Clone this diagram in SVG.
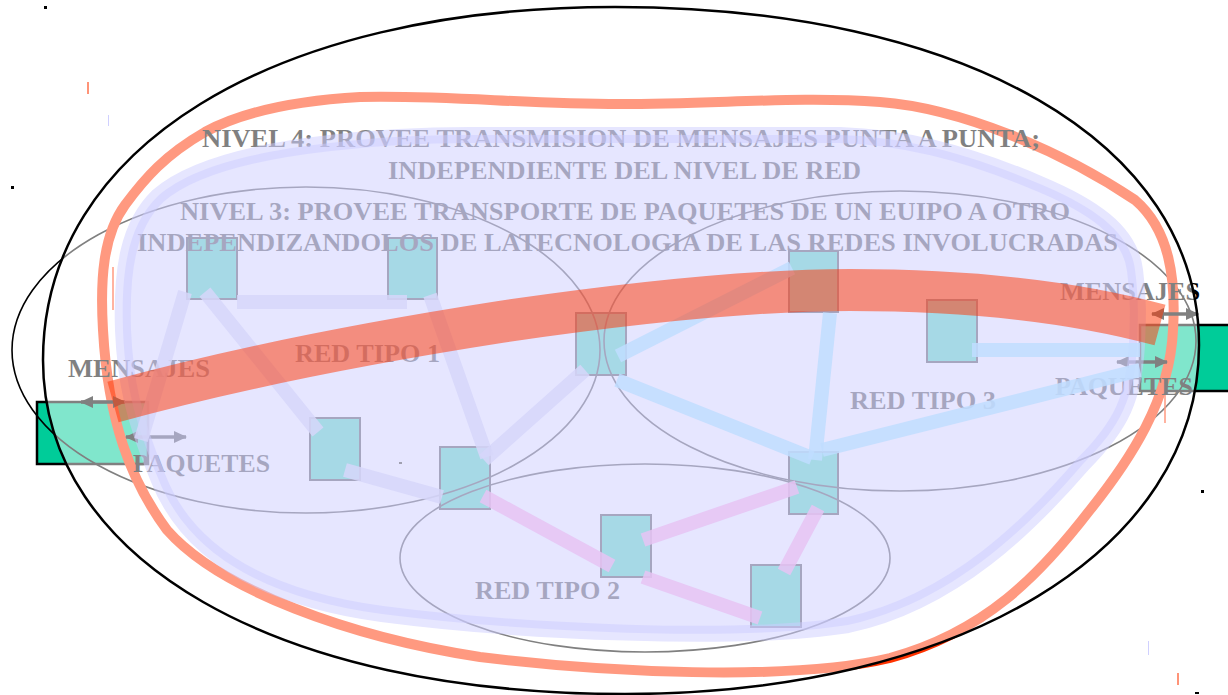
<svg xmlns="http://www.w3.org/2000/svg" width="1228" height="695" viewBox="0 0 1228 695">
<defs>
<style>
.t{font-family:"Liberation Serif","Times New Roman",serif;font-weight:bold;font-size:26px;fill:#000}
.sq{fill:#00cc99;stroke:#000;stroke-width:2}
.pc{fill:#00cc99;stroke:#000;stroke-width:2.5}
.net{fill:none;stroke:#000;stroke-width:1.6}
.ln{fill:none;stroke-width:14;stroke-opacity:0.85;stroke-linecap:butt}
.l1{stroke:#adadf4}
.l3{stroke:#80bbff}
.l2{stroke:#ce87e8}
.arr{fill:none;stroke:#000;stroke-width:3.5;marker-start:url(#ah);marker-end:url(#ah)}
</style>
<marker id="ah" markerUnits="userSpaceOnUse" markerWidth="13" markerHeight="12" viewBox="0 0 13 12" refX="12" refY="6" orient="auto-start-reverse">
<path d="M0,0 L13,6 L0,12 z" fill="#000"/>
</marker>
</defs>
<rect width="1228" height="695" fill="#fff"/>

<g id="pc-left"><rect class="pc" x="37" y="402" width="111" height="62"/></g>
<g id="pc-right"><rect class="pc" x="1140" y="325" width="100" height="66"/></g>

<g id="routers">
<g id="r1"><rect class="sq" x="187" y="238" width="50" height="61"/></g>
<g id="r2"><rect class="sq" x="388" y="238" width="49" height="61"/></g>
<g id="r3"><rect class="sq" x="576" y="313" width="50" height="62"/></g>
<g id="r4"><rect class="sq" x="789" y="251" width="49" height="61"/></g>
<g id="r5"><rect class="sq" x="927" y="300" width="50" height="62"/></g>
<g id="r7"><rect class="sq" x="310" y="418" width="50" height="62"/></g>
<g id="r8"><rect class="sq" x="440" y="447" width="50" height="62"/></g>
<g id="r9"><rect class="sq" x="789" y="452" width="49" height="62"/></g>
<g id="r10"><rect class="sq" x="601" y="515" width="50" height="62"/></g>
<g id="r11"><rect class="sq" x="751" y="565" width="50" height="62"/></g>
</g>

<g id="networks">
<ellipse id="red1" class="net" cx="306" cy="350" rx="294" ry="163"/>
<ellipse id="red3" class="net" cx="900" cy="341" rx="296" ry="150"/>
<ellipse id="red2" class="net" cx="645" cy="558" rx="245" ry="94"/>
</g>

<g id="nivel4-ring">
<path d="M103,330 C100,280 103,235 125,205 C145,178 165,155 205,132 C240,113 290,101 360,97 C450,95 520,104 620,104 C720,104 800,96 880,102 C960,108 1060,150 1135,200 C1170,230 1176,280 1173,330 C1170,400 1130,460 1090,510 C1040,575 985,632 890,658 C790,682 600,672 480,657 C350,637 220,590 167,530 C130,480 108,420 103,330 Z" fill="none" stroke="#ff3300" stroke-width="10"/>
<line x1="113" y1="267" x2="113" y2="310" stroke="#ff3300" stroke-width="1.5"/>
<line x1="1165" y1="383" x2="1165" y2="423" stroke="#ff3300" stroke-width="1.5"/>
</g>

<g id="labels">
<text class="t" x="202" y="147" textLength="838" lengthAdjust="spacingAndGlyphs">NIVEL 4: PROVEE TRANSMISION DE MENSAJES PUNTA A PUNTA;</text>
<text class="t" x="388" y="179" textLength="473" lengthAdjust="spacingAndGlyphs">INDEPENDIENTE DEL NIVEL DE RED</text>
<text class="t" x="180" y="220" textLength="890" lengthAdjust="spacingAndGlyphs">NIVEL 3: PROVEE TRANSPORTE DE PAQUETES DE UN EUIPO A OTRO</text>
<text class="t" x="137" y="251" textLength="981" lengthAdjust="spacingAndGlyphs">INDEPENDIZANDOLOS DE LATECNOLOGIA DE LAS REDES INVOLUCRADAS</text>
<text class="t" x="295" y="362" textLength="145" lengthAdjust="spacingAndGlyphs">RED TIPO 1</text>
<text class="t" x="850" y="409" textLength="146" lengthAdjust="spacingAndGlyphs">RED TIPO 3</text>
<text class="t" x="475" y="599" textLength="145" lengthAdjust="spacingAndGlyphs">RED TIPO 2</text>
<text class="t" x="68" y="377" textLength="142" lengthAdjust="spacingAndGlyphs">MENSAJES</text>
<text class="t" x="133" y="472" textLength="137" lengthAdjust="spacingAndGlyphs">PAQUETES</text>
<text class="t" x="1060" y="300" textLength="140" lengthAdjust="spacingAndGlyphs">MENSAJES</text>
<text class="t" x="1055" y="395" textLength="138" lengthAdjust="spacingAndGlyphs">PAQUETES</text>
</g>

<g id="arrows">
<line class="arr" x1="81" y1="402" x2="125" y2="402"/>
<line class="arr" x1="126" y1="437" x2="186" y2="437"/>
<line class="arr" x1="1152" y1="314" x2="1198" y2="314"/>
<line class="arr" x1="1117" y1="362" x2="1167" y2="362"/>
</g>

<g id="nivel3-area">
<path d="M123,330 C121,270 128,225 158,196 C190,168 250,152 330,143 C380,137 420,135 470,135 L840,135 C900,137 960,150 1040,184 C1090,205 1130,230 1135,270 C1139,300 1138,320 1137,345 C1134,398 1122,425 1083,464 C1033,522 955,602 848,625 C740,642 520,632 382,614 C265,598 188,555 158,478 C133,418 125,380 123,330 Z" fill="#9999ff" fill-opacity="0.5" stroke="#9999ff" stroke-opacity="0.5" stroke-width="16"/>
</g>

<g id="connectors">
<line class="ln l1" x1="185" y1="292" x2="141" y2="440"/>
<line class="ln l1" x1="205" y1="292" x2="318" y2="432"/>
<line class="ln l1" x1="237" y1="302" x2="407" y2="302"/>
<line class="ln l1" x1="430" y1="295" x2="487" y2="457"/>
<line class="ln l1" x1="484" y1="460" x2="585" y2="370"/>
<line class="ln l1" x1="345" y1="470" x2="442" y2="497"/>
<line class="ln l3" x1="618" y1="356" x2="792" y2="268"/>
<line class="ln l3" x1="617" y1="380" x2="812" y2="458"/>
<line class="ln l3" x1="830" y1="313" x2="815" y2="460"/>
<line class="ln l3" x1="822" y1="450" x2="1140" y2="370"/>
<line class="ln l3" x1="972" y1="350" x2="1140" y2="350"/>
<line class="ln l2" x1="483" y1="496" x2="612" y2="566"/>
<line class="ln l2" x1="643" y1="540" x2="797" y2="487"/>
<line class="ln l2" x1="643" y1="577" x2="760" y2="618"/>
<line class="ln l2" x1="818" y1="508" x2="784" y2="572"/>
</g>

<g id="nivel4-ellipse">
<path d="M43,360 C43,148 272,7 615,7 C965,7 1199,142 1199,345 C1199,550 960,694 625,694 C276,694 43,560 43,360 Z" fill="#fff" fill-opacity="0.5" stroke="#000" stroke-width="2.5"/>
</g>

<g id="mensajes-path">
<path d="M113,402 C200,378 320,350 500,322 C650,300 760,290 850,290 C950,290 1060,298 1160,325" fill="none" stroke="#ff3300" stroke-opacity="0.5" stroke-width="42"/>
</g>

<g id="specks">
<rect x="44" y="6" width="3" height="3" fill="#000"/>
<rect x="11" y="186" width="3" height="3" fill="#000"/>
<rect x="1201" y="490" width="3" height="3" fill="#000"/>
<rect x="1195" y="692" width="4" height="2" fill="#000"/>
<rect x="87" y="82" width="2" height="12" fill="#ff9478"/>
<rect x="108" y="115" width="1" height="11" fill="#d0d0ff"/>
<rect x="1148" y="641" width="1" height="14" fill="#d0d0ff"/>
<rect x="1177" y="673" width="2" height="12" fill="#ff9478"/>
<rect x="399" y="462" width="3" height="2" fill="#a0a0b0"/>
</g>
</svg>
